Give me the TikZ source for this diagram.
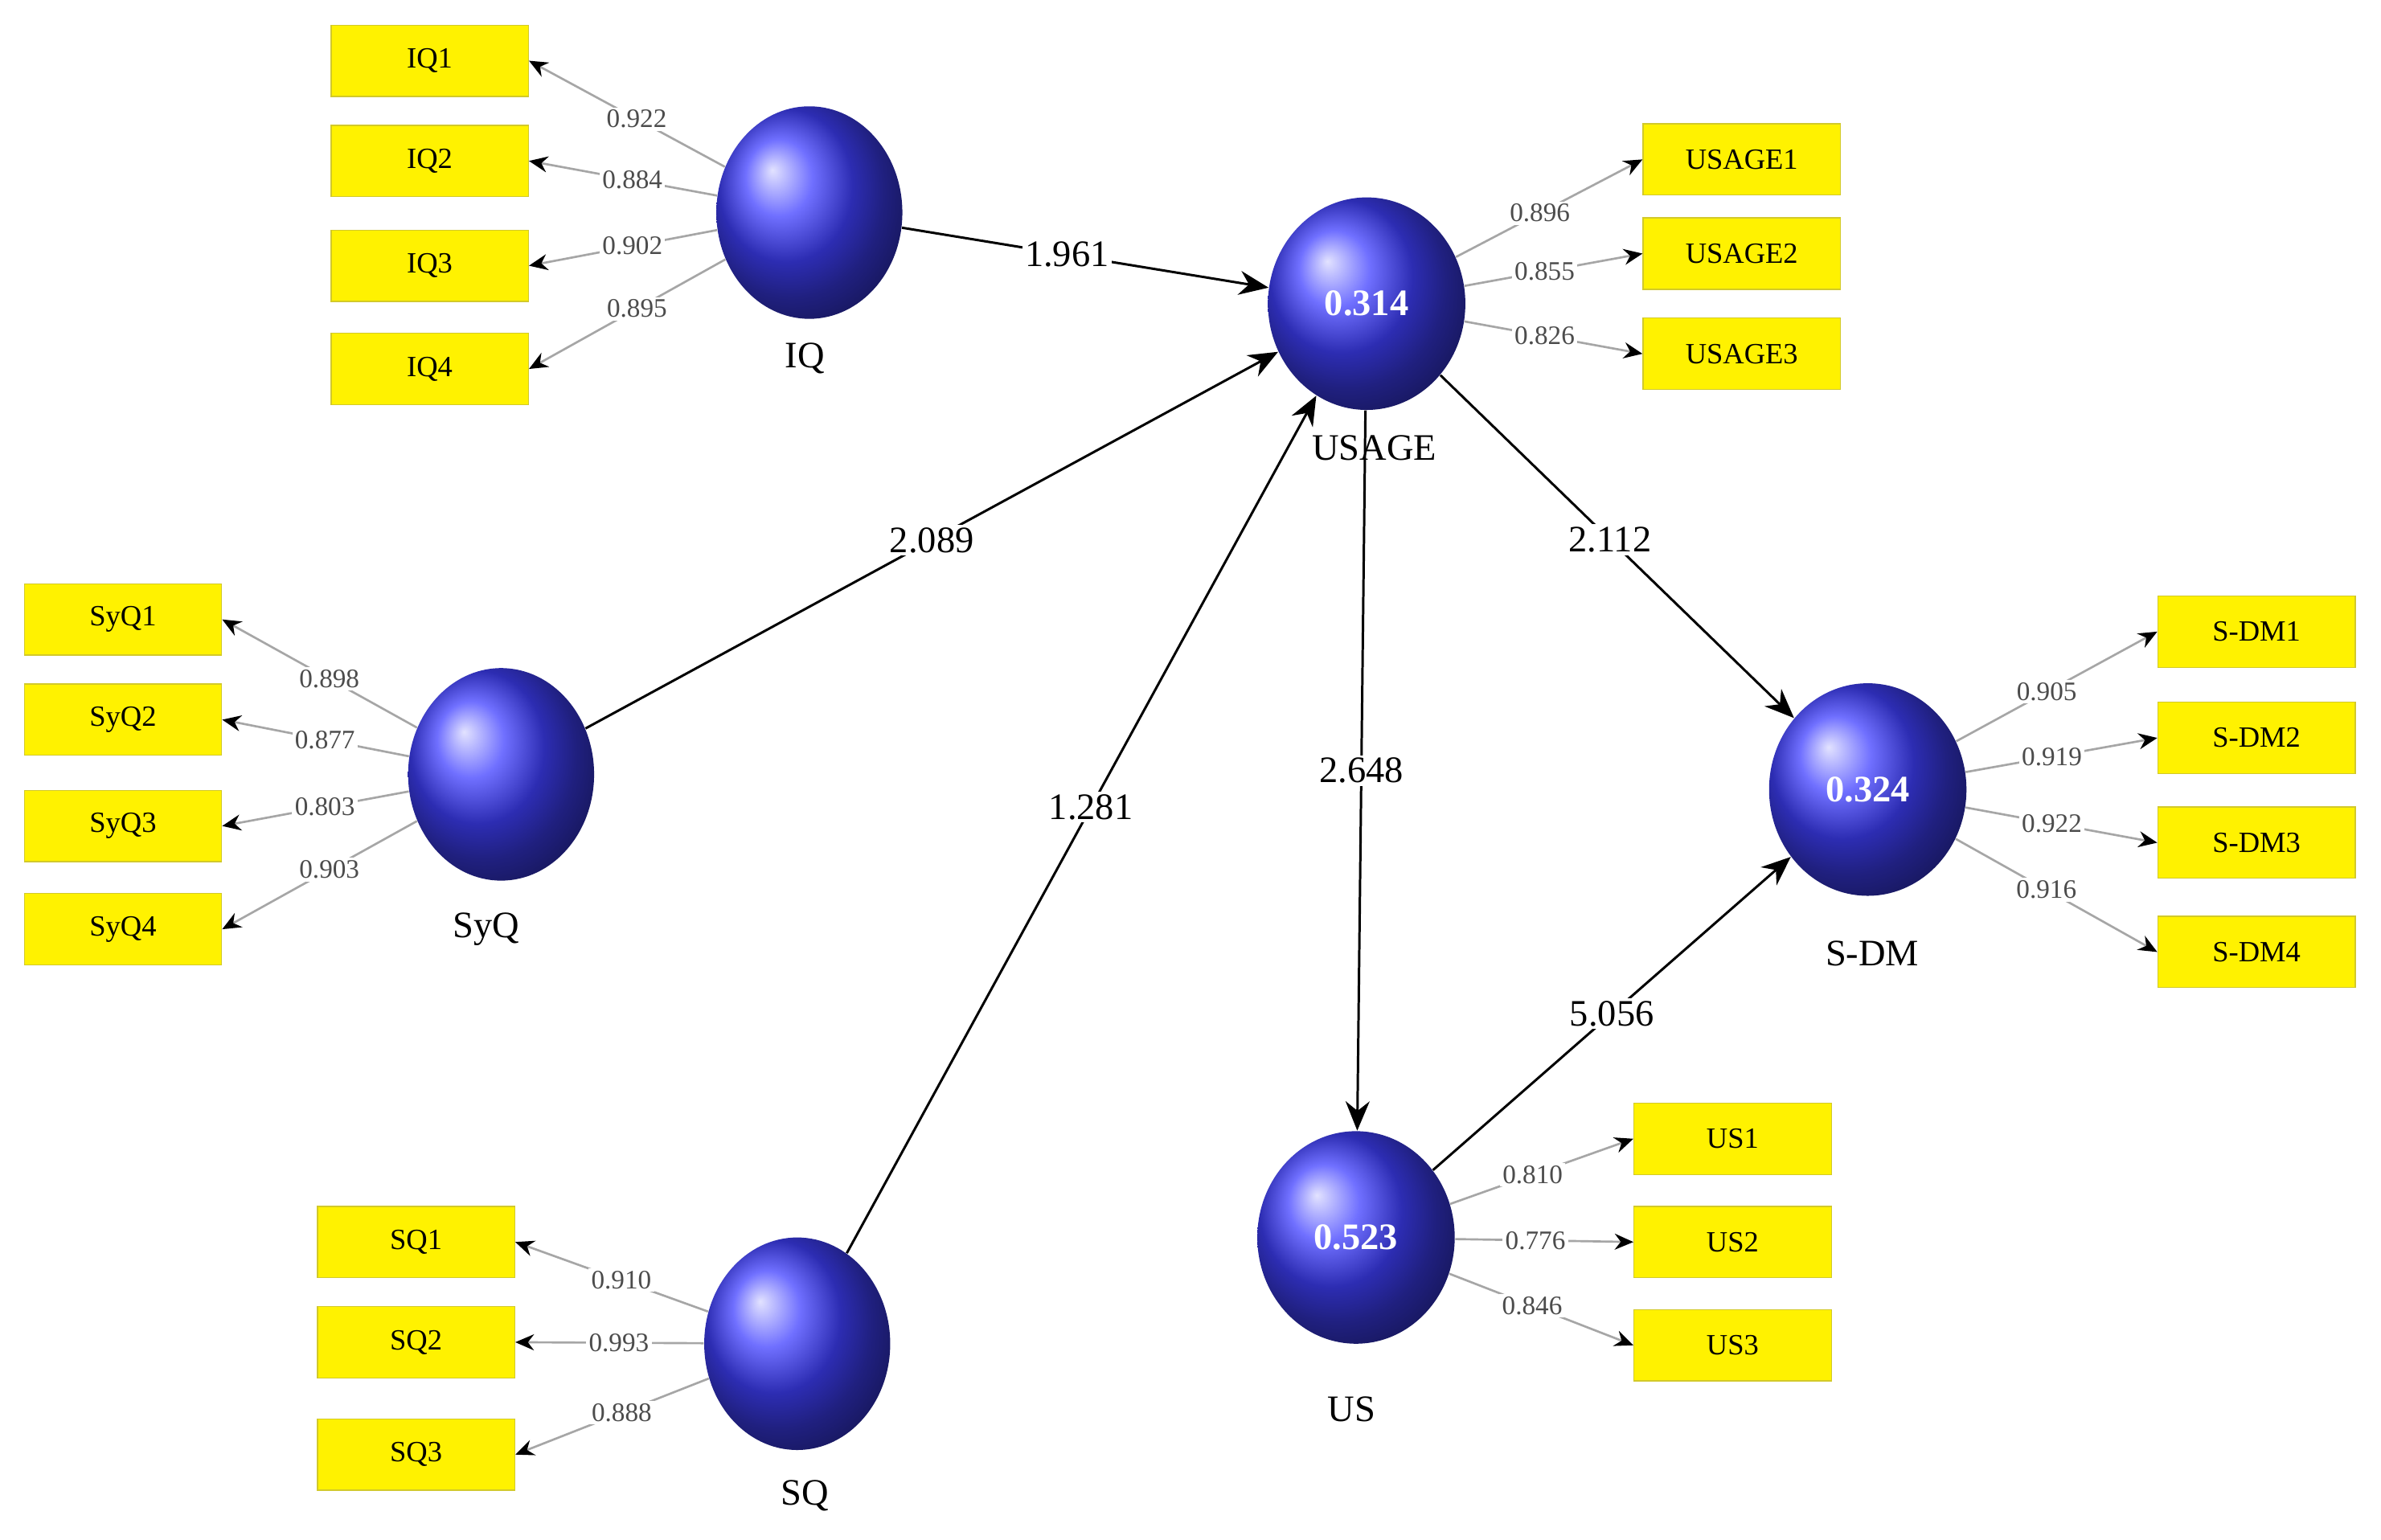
\documentclass[tikz,border=0pt]{standalone}
\usepackage{fontspec}
\setmainfont{Liberation Serif}
\usetikzlibrary{shapes.geometric,arrows.meta}
\begin{document}
\begin{tikzpicture}[x=0.02cm,y=-0.02cm,
 lv/.style={ellipse,minimum width=2.45cm,minimum height=2.8cm,ball color=blue!75!white,draw=none,text=white,font=\bfseries\fontsize{14}{16}\selectfont},
 lvb/.style={lv,minimum width=2.6cm},
 box/.style={rectangle,fill=yellow,draw=yellow!80!black,minimum width=2.6cm,minimum height=0.94cm,font=\fontsize{11}{13}\selectfont},
 ld/.style={draw=gray!70,line width=0.8pt,-{Stealth[length=7pt,width=6pt,color=black]}},
 ll/.style={pos=0.45,fill=white,inner sep=1pt,text=gray!60!black,font=\fontsize{10}{12}\selectfont},
 sp/.style={draw=black,line width=0.9pt,-{Stealth[length=11pt,width=9pt]}},
 sl/.style={fill=white,inner sep=1pt,font=\fontsize{14}{16}\selectfont},
 nm/.style={font=\fontsize{14}{16}\selectfont}]
\useasboundingbox (0,0) rectangle (1568,1014);
\fill[white] (0,0) rectangle (1568,1014);
\node[lv] (IQ) at (533,140) {};
\node[lvb] (USAGE) at (900,200) {0.314};
\node[lv] (SyQ) at (330,510) {};
\node[lv] (SQ) at (525,885) {};
\node[lvb] (US) at (893,815) {0.523};
\node[lvb] (SDM) at (1230,520) {0.324};
\node[nm] (lIQ) at (530,236) {IQ};
\node[nm] (lUSAGE) at (905,295) {USAGE};
\node[nm] (lSyQ) at (320,612) {SyQ};
\node[nm] (lSQ) at (530,985) {SQ};
\node[nm] (lUS) at (890,928) {US};
\node[nm] (lSDM) at (1233,628) {S-DM};
\foreach \n/\y in {IQ1/40,IQ2/106,IQ3/175,IQ4/243} \node[box] (\n) at (283,\y) {\n};
\foreach \n/\y in {SyQ1/408,SyQ2/474,SyQ3/544,SyQ4/612} \node[box] (\n) at (81,\y) {\n};
\foreach \n/\y in {SQ1/818,SQ2/884,SQ3/958} \node[box] (\n) at (274,\y) {\n};
\foreach \n/\y in {USAGE1/105,USAGE2/167,USAGE3/233} \node[box] (\n) at (1147,\y) {\n};
\foreach \n/\y in {US1/750,US2/818,US3/886} \node[box] (\n) at (1141,\y) {\n};
\foreach \n/\t/\y in {SDM1/S-DM1/416,SDM2/S-DM2/486,SDM3/S-DM3/555,SDM4/S-DM4/627} \node[box] (\n) at (1486,\y) {\t};
% loadings
\foreach \b/\v in {IQ1/0.922,IQ2/0.884,IQ3/0.902,IQ4/0.895} \draw[ld] (IQ) -- (\b.east) node[ll] {\v};
\foreach \b/\v in {SyQ1/0.898,SyQ2/0.877,SyQ3/0.803,SyQ4/0.903} \draw[ld] (SyQ) -- (\b.east) node[ll] {\v};
\foreach \b/\v in {SQ1/0.910,SQ2/0.993,SQ3/0.888} \draw[ld] (SQ) -- (\b.east) node[ll] {\v};
\foreach \b/\v in {USAGE1/0.896,USAGE2/0.855,USAGE3/0.826} \draw[ld] (USAGE) -- (\b.west) node[ll] {\v};
\foreach \b/\v in {US1/0.810,US2/0.776,US3/0.846} \draw[ld] (US) -- (\b.west) node[ll] {\v};
\foreach \b/\v in {SDM1/0.905,SDM2/0.919,SDM3/0.922,SDM4/0.916} \draw[ld] (SDM) -- (\b.west) node[ll] {\v};
% structural
\draw[sp] (IQ) -- (USAGE) node[sl,pos=0.45] {1.961};
\draw[sp] (SyQ) -- (USAGE) node[sl,pos=0.5] {2.089};
\draw[sp] (SQ) -- (USAGE) node[sl,pos=0.52] {1.281};
\draw[sp] (USAGE) -- (US) node[sl,pos=0.5] {2.648};
\draw[sp] (USAGE) -- (SDM) node[sl,pos=0.48] {2.112};
\draw[sp] (US) -- (SDM) node[sl,pos=0.5] {5.056};
\end{tikzpicture}
\end{document}
